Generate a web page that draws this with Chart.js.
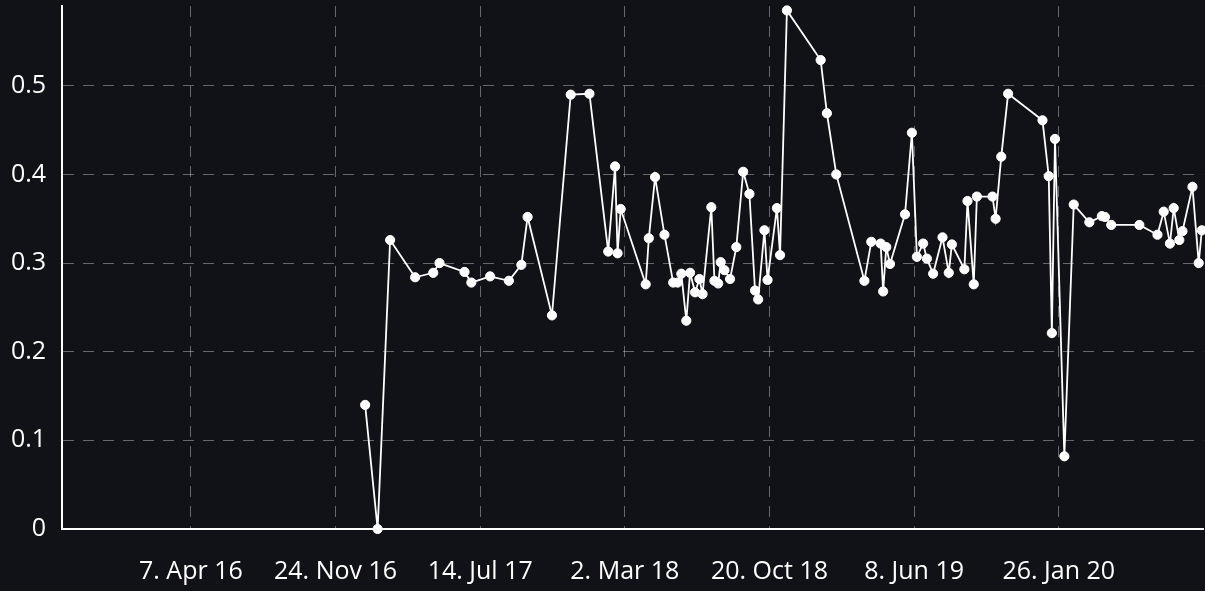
<!DOCTYPE html>
<html>
<head>
<meta charset="utf-8">
<script src="https://cdn.jsdelivr.net/npm/chart.js@4/dist/chart.umd.min.js"></script>
<style>
	html, body { margin: 0; padding: 0; background: #111118; overflow: hidden; }
	/* canvas a bit larger than the window, shifted up to use the space above the axis */
	#wrap { width: 1209px; height: 616px; margin-top: -25px; }
</style>
</head>
<body>
<div id="wrap"><canvas id="verlauf"></canvas></div>
<script>
// Messzeitpunkte und Werte
const dates = [
	'2017-01-11','2017-01-31','2017-02-20','2017-04-01','2017-04-30','2017-05-10','2017-06-19','2017-06-30','2017-07-30','2017-08-29',
	'2017-09-18','2017-09-28','2017-11-06','2017-12-06','2018-01-05','2018-02-04','2018-02-15','2018-02-19','2018-02-24','2018-04-05',
	'2018-04-10','2018-04-20','2018-05-05','2018-05-19','2018-05-26','2018-06-01','2018-06-09','2018-06-15','2018-06-23','2018-06-30',
	'2018-07-05','2018-07-19','2018-07-24','2018-07-30','2018-08-03','2018-08-09','2018-08-18','2018-08-28','2018-09-08','2018-09-18',
	'2018-09-27','2018-10-02','2018-10-12','2018-10-17','2018-11-01','2018-11-06','2018-11-17','2019-01-10','2019-01-20','2019-02-04',
	'2019-03-21','2019-04-01','2019-04-16','2019-04-20','2019-04-25','2019-05-01','2019-05-25','2019-06-05','2019-06-13','2019-06-23',
	'2019-06-29','2019-07-09','2019-07-24','2019-08-03','2019-08-08','2019-08-28','2019-09-02','2019-09-12','2019-09-17','2019-10-12',
	'2019-10-17','2019-10-26','2019-11-06','2019-12-31','2020-01-10','2020-01-15','2020-01-20','2020-02-04','2020-02-19','2020-03-15',
	'2020-04-04','2020-04-09','2020-04-19','2020-06-03','2020-07-02','2020-07-12','2020-07-22','2020-07-28','2020-08-06','2020-08-11',
	'2020-08-27','2020-09-06','2020-09-11'
];

const values = [
	0.14, 0, 0.326, 0.284, 0.289, 0.30, 0.29, 0.278, 0.285, 0.28,
	0.298, 0.352, 0.241, 0.49, 0.491, 0.313, 0.409, 0.311, 0.361, 0.276,
	0.328, 0.397, 0.332, 0.278, 0.278, 0.288, 0.235, 0.289, 0.267, 0.282,
	0.265, 0.363, 0.28, 0.277, 0.301, 0.292, 0.282, 0.318, 0.403, 0.378,
	0.269, 0.259, 0.337, 0.281, 0.362, 0.309, 0.585, 0.529, 0.469, 0.40,
	0.28, 0.324, 0.322, 0.268, 0.318, 0.299, 0.355, 0.447, 0.307, 0.322,
	0.305, 0.288, 0.329, 0.289, 0.321, 0.293, 0.37, 0.276, 0.375, 0.375,
	0.35, 0.42, 0.491, 0.461, 0.398, 0.221, 0.44, 0.082, 0.366, 0.346,
	0.353, 0.352, 0.343, 0.343, 0.332, 0.358, 0.322, 0.362, 0.326, 0.336,
	0.386, 0.30, 0.337
];

// Achsenbeschriftung (Zeitstempel in ms)
const xTickValues = [1460000000000, 1480000000000, 1500000000000, 1520000000000, 1540000000000, 1560000000000, 1580000000000];
const xTickLabels = ['7. Apr 16', '24. Nov 16', '14. Jul 17', '2. Mar 18', '20. Oct 18', '8. Jun 19', '26. Jan 20'];
const yTickValues = [0, 0.1, 0.2, 0.3, 0.4, 0.5];

const points = dates.map((d, i) => ({ x: Date.parse(d), y: values[i] }));

const gridColor = 'rgba(255,255,255,0.36)';
const tickFont = { family: '"Open Sans", sans-serif', size: 25 };

new Chart(document.getElementById('verlauf'), {
	type: 'line',
	data: {
		datasets: [{
			data: points,
			borderColor: '#ffffff',
			borderWidth: 1.8,
			backgroundColor: '#ffffff',
			pointRadius: 4.6,
			pointBorderWidth: 1,
			pointBorderColor: '#ffffff',
			tension: 0,
			clip: false
		}]
	},
	options: {
		responsive: true,
		maintainAspectRatio: false,
		animation: false,
		events: [],
		layout: { padding: { top: 0, left: -5, right: -2, bottom: -24 } },
		plugins: {
			legend: { display: false },
			tooltip: { enabled: false }
		},
		scales: {
			x: {
				type: 'linear',
				min: 1442200000000,
				max: 1600000000000,
				afterBuildTicks: scale => {
					scale.ticks = xTickValues.map(v => ({ value: v }));
				},
				ticks: {
					color: '#ffffff',
					font: tickFont,
					padding: 28,
					maxRotation: 0,
					autoSkip: false,
					callback: (value, index) => xTickLabels[index]
				},
				grid: {
					color: gridColor,
					lineWidth: 1,
					drawTicks: false
				},
				border: { color: '#ffffff', width: 2, dash: [11, 9] }
			},
			y: {
				min: 0,
				max: 0.59,
				afterBuildTicks: scale => {
					scale.ticks = yTickValues.map(v => ({ value: v }));
				},
				ticks: {
					color: '#ffffff',
					font: tickFont,
					padding: 16
				},
				grid: {
					color: ctx => ctx.tick && ctx.tick.value === 0 ? 'rgba(0,0,0,0)' : gridColor,
					lineWidth: 1,
					drawTicks: false
				},
				border: { color: '#ffffff', width: 2, dash: [11, 9] }
			}
		}
	}
});
</script>
</body>
</html>
